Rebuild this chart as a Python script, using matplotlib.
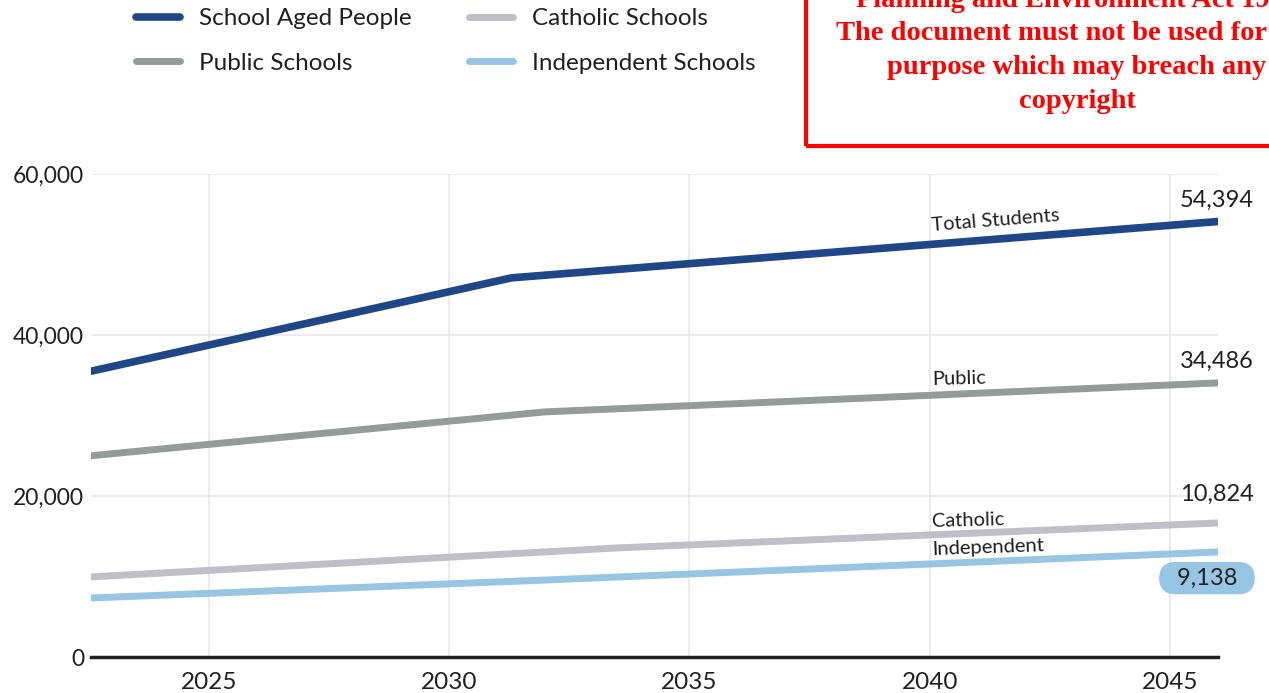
import matplotlib
matplotlib.use("Agg")
import matplotlib.pyplot as plt
from matplotlib.patches import Rectangle

plt.rcParams['font.family'] = ['Lato', 'DejaVu Sans']

# data
total_x = [2022.55, 2031.3, 2046.0]
total_y = [35500, 47100, 54100]
public_x = [2022.55, 2032.0, 2046.0]
public_y = [25000, 30450, 34050]
catholic_x = [2022.55, 2033.5, 2046.0]
catholic_y = [9950, 13550, 16650]
indep_x = [2022.55, 2032.0, 2046.0]
indep_y = [7330, 9560, 13050]

end_labels = ['54,394', '34,486', '10,824', '9,138']
series_names = ['School Aged People', 'Public Schools', 'Catholic Schools', 'Independent Schools']
yticks = [0, 20000, 40000, 60000]
ytick_labels = ['0', '20,000', '40,000', '60,000']
xticks = [2025, 2030, 2035, 2040, 2045]

c_total = '#1f4788'
c_public = '#959a9a'
c_cath = '#bfbfc8'
c_ind = '#97c6e4'
txt = '#231f20'

fig = plt.figure(figsize=(12.69, 6.93), dpi=100)
ax = fig.add_axes([91/1269, 36/693, (1218-91)/1269, (657-174)/693])

l1, = ax.plot(total_x, total_y, color=c_total, lw=5.5, solid_capstyle='round', zorder=5)
l2, = ax.plot(public_x, public_y, color=c_public, lw=5, solid_capstyle='round', zorder=4)
l3, = ax.plot(catholic_x, catholic_y, color=c_cath, lw=5, solid_capstyle='round', zorder=4)
l4, = ax.plot(indep_x, indep_y, color=c_ind, lw=5, solid_capstyle='round', zorder=4)

ax.set_xlim(2022.55, 2046.0)
ax.set_ylim(0, 60000)
ax.set_xticks(xticks)
ax.set_xticklabels([str(v) for v in xticks], fontsize=17.5, color=txt)
ax.set_yticks(yticks)
ax.set_yticklabels(ytick_labels, fontsize=16.5, color=txt)
ax.tick_params(length=0)
ax.tick_params(axis='x', pad=11)
ax.tick_params(axis='y', pad=5)
ax.grid(True, color='#e8e8e8', lw=1.2)
ax.set_axisbelow(True)
for s in ['top', 'right', 'left']:
    ax.spines[s].set_visible(False)
ax.spines['bottom'].set_color(txt)
ax.spines['bottom'].set_linewidth(2.5)
ax.spines['bottom'].set_zorder(6)

# inline series labels
ax.text(2040.05, 52600, 'Total Students', fontsize=14.5, color=txt, rotation=4.5,
        rotation_mode='anchor', ha='left', va='bottom')
ax.text(2040.05, 33450, 'Public', fontsize=14.5, color=txt, rotation=1.5,
        rotation_mode='anchor', ha='left', va='bottom')
ax.text(2040.05, 15800, 'Catholic', fontsize=14.5, color=txt, rotation=1.5,
        rotation_mode='anchor', ha='left', va='bottom')
ax.text(2040.05, 12300, 'Independent', fontsize=14.5, color=txt, rotation=2,
        rotation_mode='anchor', ha='left', va='bottom')

# end values
ax.text(2045.98, 56770, end_labels[0], fontsize=17, color=txt, ha='center', va='center', clip_on=False)
ax.text(2045.98, 36770, end_labels[1], fontsize=17, color=txt, ha='center', va='center', clip_on=False)
ax.text(2045.98, 20250, end_labels[2], fontsize=17, color=txt, ha='center', va='center', clip_on=False)
ax.text(2045.77, 9800, '  ' + end_labels[3] + '  ', fontsize=17, color=txt, ha='center', va='center',
        clip_on=False, bbox=dict(boxstyle='round,pad=0.24,rounding_size=0.7', fc=c_ind, ec='none'),
        zorder=7)

# legend
fig.legend([l1, l2, l3, l4], series_names, ncols=2, loc='upper left',
           bbox_to_anchor=(136/1269, 1 - 8/693), frameon=False, fontsize=17.5,
           handlelength=1.8, handletextpad=0.8, columnspacing=2.35, labelspacing=0.97,
           borderpad=0, borderaxespad=0, labelcolor=txt)

# copyright notice box
fig.add_artist(Rectangle((806/1269, 1 - 146/693), 0.5, 0.5, transform=fig.transFigure,
                         fill=False, ec='#ff0000', lw=3))
notice = ['Planning and Environment Act 1987', 'The document must not be used for any',
          'purpose which may breach any', 'copyright']
for i, line in enumerate(notice):
    fig.text(1077/1269, 1 - (0.5 + 33.5*i)/693, line, family='Liberation Serif', weight='bold',
             fontsize=20.5, color='#ff0000', ha='center', va='center')

fig.savefig('out.png', dpi=100)
